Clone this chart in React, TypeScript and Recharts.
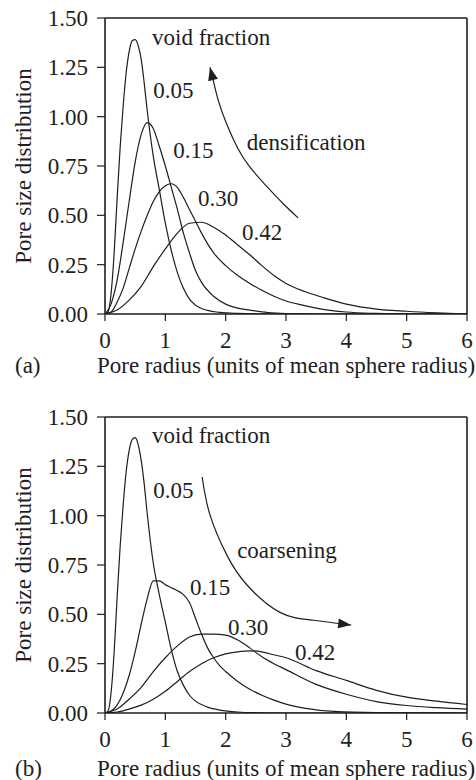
import React from 'react';
import { ComposedChart, Line, XAxis, YAxis, ReferenceLine, Scatter } from 'recharts';

const FONT = '"Liberation Serif", "Times New Roman", Times, serif';
const INK = '#1e1e1e';
const FS = 23;

const xTicks = [0, 1, 2, 3, 4, 5, 6];
const yTicks = [0, 0.25, 0.5, 0.75, 1, 1.25, 1.5];
const xTitle = 'Pore radius (units of mean sphere radius)';
const yTitle = 'Pore size distribution';

// ---- panel (a): densification ----
const a05x = [0, 0.05, 0.1, 0.15, 0.2, 0.25, 0.3, 0.35, 0.4, 0.45, 0.5, 0.55, 0.6, 0.65, 0.7, 0.8, 0.9, 1.0, 1.1, 1.2, 1.3, 1.4, 1.5, 1.7, 1.9, 2.2, 2.6, 3, 4, 5, 6];
const a05y = [0, 0.01, 0.1, 0.3, 0.58, 0.84, 1.05, 1.22, 1.33, 1.385, 1.39, 1.36, 1.29, 1.17, 1.03, 0.8, 0.63, 0.46, 0.32, 0.21, 0.13, 0.075, 0.045, 0.018, 0.008, 0.003, 0.001, 0, 0, 0, 0];
const a15x = [0, 0.1, 0.2, 0.3, 0.4, 0.5, 0.6, 0.7, 0.8, 0.9, 1.0, 1.1, 1.2, 1.3, 1.4, 1.5, 1.6, 1.8, 2.0, 2.2, 2.4, 2.7, 3.0, 3.5, 4, 5, 6];
const a15y = [0, 0.05, 0.17, 0.36, 0.57, 0.77, 0.91, 0.97, 0.94, 0.85, 0.75, 0.64, 0.53, 0.41, 0.31, 0.22, 0.16, 0.09, 0.05, 0.03, 0.02, 0.007, 0.002, 0, 0, 0, 0];
const a30x = [0, 0.1, 0.2, 0.3, 0.4, 0.5, 0.6, 0.7, 0.8, 0.9, 1.0, 1.1, 1.2, 1.3, 1.4, 1.5, 1.6, 1.8, 2.0, 2.2, 2.4, 2.6, 2.8, 3.0, 3.2, 3.5, 4.0, 4.5, 5, 6];
const a30y = [0, 0.01, 0.06, 0.13, 0.23, 0.33, 0.42, 0.5, 0.57, 0.62, 0.65, 0.66, 0.64, 0.59, 0.53, 0.47, 0.41, 0.31, 0.245, 0.195, 0.155, 0.12, 0.09, 0.066, 0.05, 0.03, 0.01, 0.003, 0, 0];
const a42x = [0, 0.2, 0.4, 0.6, 0.8, 1.0, 1.2, 1.4, 1.6, 1.8, 2.0, 2.2, 2.4, 2.6, 2.8, 3.0, 3.3, 3.6, 4.0, 4.5, 5.0, 5.5, 6];
const a42y = [0, 0.02, 0.07, 0.14, 0.24, 0.33, 0.41, 0.46, 0.465, 0.44, 0.4, 0.35, 0.3, 0.245, 0.195, 0.155, 0.115, 0.085, 0.05, 0.025, 0.014, 0.006, 0];
const arrowAx = [3.2, 2.95, 2.7, 2.4, 2.2, 2.02, 1.88, 1.79, 1.76, 1.74];
const arrowAy = [0.487, 0.56, 0.64, 0.745, 0.84, 0.96, 1.08, 1.19, 1.225, 1.25];
const labelsA = [
  { x: 0.78, y: 1.404, text: 'void fraction' },
  { x: 0.8, y: 1.135, text: '0.05' },
  { x: 1.13, y: 0.83, text: '0.15' },
  { x: 1.54, y: 0.588, text: '0.30' },
  { x: 2.27, y: 0.416, text: '0.42' },
  { x: 2.35, y: 0.872, text: 'densification' },
];

// ---- panel (b): coarsening ----
const b05x = [0, 0.05, 0.1, 0.15, 0.2, 0.25, 0.3, 0.35, 0.4, 0.45, 0.5, 0.55, 0.6, 0.65, 0.7, 0.8, 0.9, 1.0, 1.1, 1.2, 1.3, 1.4, 1.5, 1.7, 1.9, 2.2, 2.6, 3, 4, 5, 6];
const b05y = [0, 0.01, 0.1, 0.3, 0.58, 0.84, 1.05, 1.22, 1.33, 1.385, 1.395, 1.36, 1.28, 1.16, 1.01, 0.76, 0.6, 0.46, 0.32, 0.21, 0.14, 0.09, 0.06, 0.03, 0.015, 0.005, 0.001, 0, 0, 0, 0];
const b15x = [0, 0.1, 0.2, 0.3, 0.4, 0.5, 0.6, 0.7, 0.8, 0.9, 1.0, 1.1, 1.2, 1.3, 1.4, 1.5, 1.6, 1.7, 1.8, 1.9, 2.0, 2.2, 2.4, 2.6, 2.8, 3.0, 3.3, 3.8, 4.5, 6];
const b15y = [0, 0.01, 0.04, 0.1, 0.19, 0.31, 0.45, 0.58, 0.67, 0.67, 0.65, 0.635, 0.62, 0.6, 0.56, 0.48, 0.4, 0.33, 0.28, 0.24, 0.21, 0.16, 0.12, 0.09, 0.065, 0.045, 0.025, 0.008, 0.002, 0];
const b30x = [0, 0.2, 0.4, 0.6, 0.8, 1.0, 1.2, 1.4, 1.6, 1.8, 2.0, 2.2, 2.4, 2.6, 2.8, 3.0, 3.5, 4.0, 4.5, 5.0, 5.5, 6.0];
const b30y = [0, 0.02, 0.07, 0.13, 0.21, 0.28, 0.34, 0.385, 0.4, 0.4, 0.395, 0.37, 0.33, 0.285, 0.25, 0.22, 0.145, 0.095, 0.058, 0.038, 0.027, 0.02];
const b42x = [0, 0.2, 0.4, 0.6, 0.8, 1.0, 1.2, 1.4, 1.6, 1.8, 2.0, 2.2, 2.4, 2.6, 2.8, 3.0, 3.5, 4.0, 4.5, 5.0, 5.5, 6.0];
const b42y = [0, 0.005, 0.02, 0.04, 0.07, 0.11, 0.16, 0.21, 0.25, 0.28, 0.3, 0.31, 0.315, 0.31, 0.295, 0.28, 0.215, 0.165, 0.115, 0.08, 0.06, 0.043];
const arrowBx = [1.61, 1.74, 2.02, 2.35, 2.9, 3.45, 3.9, 4.0, 4.08];
const arrowBy = [1.196, 1.004, 0.8, 0.65, 0.51, 0.47, 0.452, 0.449, 0.446];
const labelsB = [
  { x: 0.78, y: 1.409, text: 'void fraction' },
  { x: 0.8, y: 1.13, text: '0.05' },
  { x: 1.41, y: 0.64, text: '0.15' },
  { x: 2.04, y: 0.436, text: '0.30' },
  { x: 3.15, y: 0.31, text: '0.42' },
  { x: 2.19, y: 0.826, text: 'coarsening' },
];

const pts = (xs: number[], ys: number[]) => xs.map((x, i) => ({ x, y: ys[i] }));

const makeArrowDot = (n: number) => {
  let prev: { cx: number; cy: number } | null = null;
  return (props: any) => {
    const { cx, cy, index } = props;
    if (index === n - 2) prev = { cx, cy };
    if (index !== n - 1 || !prev) return <g key={`ad-${index}`} />;
    const ang = (Math.atan2(cy - prev.cy, cx - prev.cx) * 180) / Math.PI;
    return (
      <polygon
        key={`ad-${index}`}
        points="0,0 -13,-5 -13,5"
        fill={INK}
        stroke="none"
        transform={`translate(${cx},${cy}) rotate(${ang})`}
      />
    );
  };
};

const renderText = (props: any) => {
  const { cx, cy, payload } = props;
  return (
    <text x={cx} y={cy} dy="0.35em" textAnchor="start" fontFamily={FONT} fontSize={FS} fill={INK}>
      {payload.text}
    </text>
  );
};

type PanelProps = {
  top: number;
  height: number;
  marginTop: number;
  axisHeight: number;
  titleOffset: number;
  tag: string;
  series: { x: number; y: number }[][];
  arrow: { x: number; y: number }[];
  labels: { x: number; y: number; text: string }[];
};

const Panel = ({ top, height, marginTop, axisHeight, titleOffset, tag, series, arrow, labels }: PanelProps) => {
  const xLabel = (p: any) => {
    const vb = p.viewBox || {};
    const y = vb.y + titleOffset;
    return (
      <g>
        <text x={vb.x + vb.width / 2} y={y} dy="0.35em" textAnchor="middle" fontFamily={FONT} fontSize={FS} fill={INK}>
          {xTitle}
        </text>
        <text x={15} y={y} dy="0.35em" textAnchor="start" fontFamily={FONT} fontSize={FS} fill={INK}>
          {tag}
        </text>
      </g>
    );
  };
  const yLabel = (p: any) => {
    const vb = p.viewBox || {};
    const cy = vb.y + vb.height / 2;
    const x = 31;
    return (
      <text x={x} y={cy} textAnchor="middle" transform={`rotate(-90, ${x}, ${cy})`} fontFamily={FONT} fontSize={FS} fill={INK}>
        {yTitle}
      </text>
    );
  };
  return (
    <div style={{ position: 'absolute', left: 0, top }}>
      <ComposedChart width={476} height={height} margin={{ top: marginTop, right: 9, bottom: 0, left: 0 }}>
        <XAxis
          type="number"
          dataKey="x"
          domain={[0, 6]}
          ticks={xTicks}
          allowDataOverflow
          height={axisHeight}
          tickSize={7}
          tickMargin={11}
          axisLine={{ stroke: INK, strokeWidth: 1.6 }}
          tickLine={{ stroke: INK, strokeWidth: 1.2 }}
          tick={{ fill: INK, fontSize: FS, fontFamily: FONT }}
          label={xLabel}
        />
        <YAxis
          type="number"
          domain={[0, 1.5]}
          ticks={yTicks}
          allowDataOverflow
          width={105}
          tickSize={8}
          tickMargin={9}
          tickFormatter={(v: number) => v.toFixed(2)}
          axisLine={{ stroke: INK, strokeWidth: 1.6 }}
          tickLine={{ stroke: INK, strokeWidth: 1.2 }}
          tick={{ fill: INK, fontSize: FS, fontFamily: FONT }}
          label={yLabel}
        />
        <ReferenceLine y={1.5} stroke={INK} strokeWidth={1.5} />
        <ReferenceLine x={6} stroke={INK} strokeWidth={1.6} />
        {series.map((s, i) => (
          <Line
            key={`s${i}`}
            name={`s${i}`}
            data={s}
            dataKey="y"
            type="monotone"
            stroke={INK}
            strokeWidth={1.2}
            dot={false}
            activeDot={false}
            isAnimationActive={false}
          />
        ))}
        <Line
          key="arrow"
          name="arrow"
          data={arrow}
          dataKey="y"
          type="natural"
          stroke={INK}
          strokeWidth={1.2}
          dot={makeArrowDot(arrow.length)}
          activeDot={false}
          isAnimationActive={false}
        />
        <Scatter data={labels} dataKey="y" shape={renderText} isAnimationActive={false} />
      </ComposedChart>
    </div>
  );
};

export default function App() {
  return (
    <div style={{ position: 'absolute', left: 0, top: 0, width: 476, height: 780, background: '#fff' }}>
      <Panel
        top={0}
        height={390}
        marginTop={18}
        axisHeight={76}
        titleOffset={51}
        tag="(a)"
        series={[pts(a05x, a05y), pts(a15x, a15y), pts(a30x, a30y), pts(a42x, a42y)]}
        arrow={pts(arrowAx, arrowAy)}
        labels={labelsA}
      />
      <Panel
        top={390}
        height={390}
        marginTop={27}
        axisHeight={67}
        titleOffset={55}
        tag="(b)"
        series={[pts(b05x, b05y), pts(b15x, b15y), pts(b30x, b30y), pts(b42x, b42y)]}
        arrow={pts(arrowBx, arrowBy)}
        labels={labelsB}
      />
    </div>
  );
}
